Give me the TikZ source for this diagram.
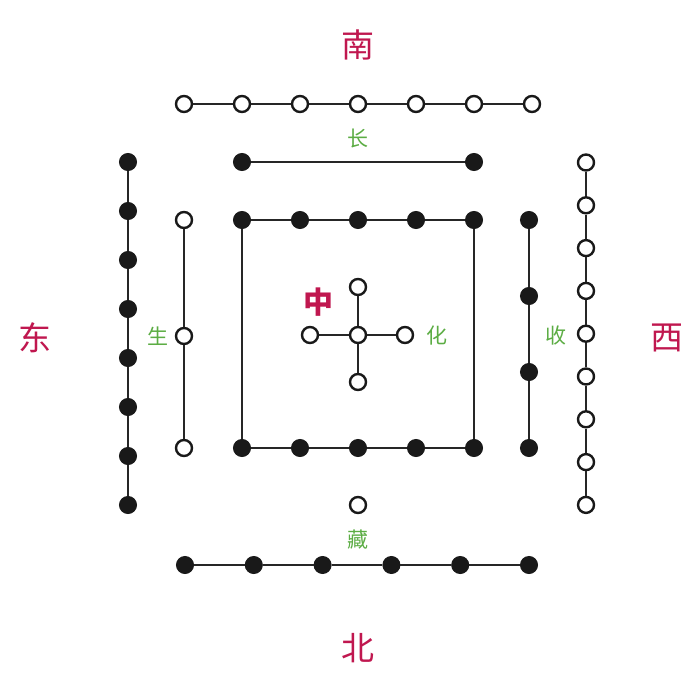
\documentclass[tikz,border=0pt]{standalone}
\usepackage{fontspec}
\newfontfamily\cjk{Noto Sans CJK SC}
\definecolor{dirred}{HTML}{C0174F}
\definecolor{lblgreen}{HTML}{5CAD44}
\tikzset{
  wdot/.style={circle,draw=black!90,fill=white,line width=2.4pt,minimum size=16pt,inner sep=0pt},
  bdot/.style={circle,fill=black!90,draw=black!90,line width=1pt,minimum size=17pt,inner sep=0pt},
  link/.style={line width=2.8pt,draw=black!85},
  dir/.style={text=dirred,font=\cjk\fontsize{33}{33}\selectfont},
  lbl/.style={text=lblgreen,font=\cjk\fontsize{21}{21}\selectfont},
}
\begin{document}
\begin{tikzpicture}[x=1pt,y=-1pt]
\useasboundingbox (0,0) rectangle (698,698);
\fill[white] (0,0) rectangle (698,698);
% direction labels
\node[dir] (nan) at (358,45) {南};
\node[dir] (bei) at (358,648) {北};
\node[dir] (dong) at (35,338) {东};
\node[dir] (xi) at (667,338) {西};
% green labels
\node[lbl] (zhang) at (358,139) {长};
\node[lbl] (sheng) at (158,336) {生};
\node[lbl] (shou) at (556,336) {收};
\node[lbl] (hua) at (437,336) {化};
\node[lbl] (cang) at (358,540) {藏};
\node[text=dirred,font=\cjk\bfseries\fontsize{30}{30}\selectfont] (zhong) at (318,302) {中};
% top row: 7 open
\foreach \i in {0,...,6} \node[wdot] (s\i) at ({184+58*\i},104) {};
\foreach \i in {0,...,5} {\pgfmathtruncatemacro\j{\i+1}\draw[link] (s\i) -- (s\j);}
% two black
\node[bdot] (t0) at (242,162) {};
\node[bdot] (t1) at (474,162) {};
\draw[link] (t0) -- (t1);
% square
\foreach \i in {0,...,4} {\node[bdot] (q\i) at ({242+58*\i},220) {};
  \node[bdot] (p\i) at ({242+58*\i},448) {};}
\foreach \i in {0,...,3} {\pgfmathtruncatemacro\j{\i+1}\draw[link] (q\i) -- (q\j); \draw[link] (p\i) -- (p\j);}
\draw[link] (q0) -- (p0);
\draw[link] (q4) -- (p4);
% left: 8 black
\foreach \i in {0,...,7} \node[bdot] (e\i) at (128,{162+49*\i}) {};
\foreach \i in {0,...,6} {\pgfmathtruncatemacro\j{\i+1}\draw[link] (e\i) -- (e\j);}
% left: 3 open
\node[wdot] (g0) at (184,220) {};
\node[wdot] (g1) at (184,336) {};
\node[wdot] (g2) at (184,448) {};
\draw[link] (g0) -- (g1);
\draw[link] (g1) -- (g2);
% right: 4 black
\node[bdot] (k0) at (529,220) {};
\node[bdot] (k1) at (529,296) {};
\node[bdot] (k2) at (529,372) {};
\node[bdot] (k3) at (529,448) {};
\draw[link] (k0) -- (k1);
\draw[link] (k1) -- (k2);
\draw[link] (k2) -- (k3);
% right: 9 open
\foreach \i in {0,...,8} \node[wdot] (w\i) at (586,{162.5+42.8*\i}) {};
\foreach \i in {0,...,7} {\pgfmathtruncatemacro\j{\i+1}\draw[link] (w\i) -- (w\j);}
% center cross
\node[wdot] (c) at (358,335) {};
\node[wdot] (cl) at (310,335) {};
\node[wdot] (cr) at (405,335) {};
\node[wdot] (ct) at (358,287) {};
\node[wdot] (cb) at (358,382) {};
\draw[link] (c) -- (cl);
\draw[link] (c) -- (cr);
\draw[link] (c) -- (ct);
\draw[link] (c) -- (cb);
% bottom
\node[wdot] (o) at (358,505) {};
\foreach \i in {0,...,5} \node[bdot] (b\i) at ({185+68.8*\i},565) {};
\foreach \i in {0,...,4} {\pgfmathtruncatemacro\j{\i+1}\draw[link] (b\i) -- (b\j);}
\end{tikzpicture}
\end{document}
